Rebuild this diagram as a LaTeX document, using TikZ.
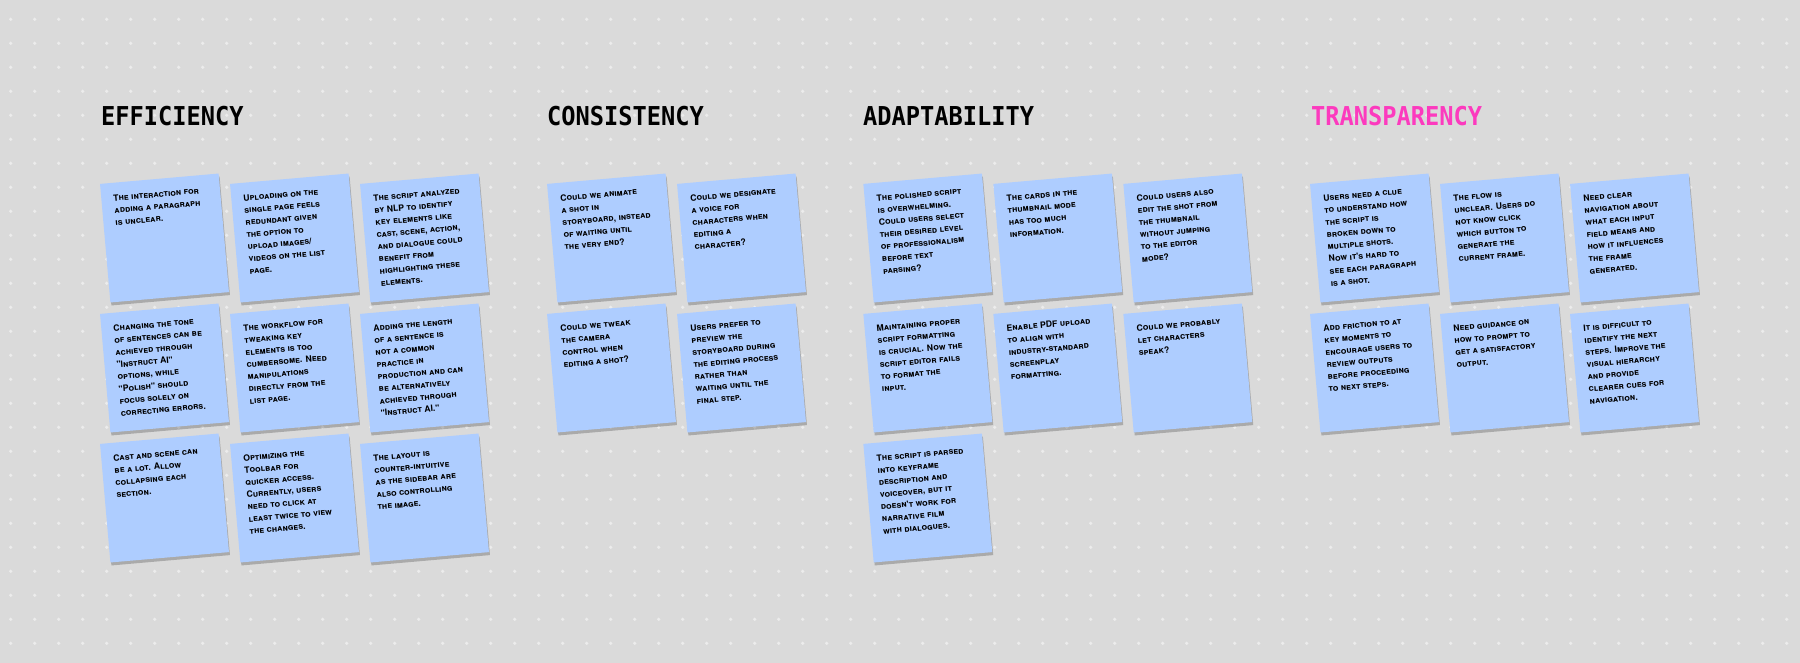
\documentclass[tikz,border=0pt]{standalone}
\usepackage{fontspec}
\usetikzlibrary{shadows}
\newfontfamily\headfont{DejaVu Sans Mono}[FakeStretch=0.91]
\newfontfamily\handfont{TeX Gyre Heros}
\definecolor{bgc}{RGB}{218,218,218}
\definecolor{dotc}{RGB}{236,236,236}
\definecolor{noteblue}{RGB}{174,205,255}
\definecolor{pinkc}{RGB}{252,58,190}
\newcommand\stxt[1]{\parbox[t][95pt][t]{95pt}{\raggedright\handfont\bfseries\scshape\fontsize{8.7}{12.2}\selectfont #1}}
\begin{document}
\begin{tikzpicture}[x=1pt,y=-1pt,
  sticky/.style={rectangle, fill=noteblue, rotate=5, inner sep=12pt,
    minimum width=119pt, minimum height=119pt,
    drop shadow={shadow xshift=1pt, shadow yshift=-3pt, opacity=0.22, fill=black}},
  heading/.style={anchor=base west, inner sep=0pt, font=\headfont\bfseries\fontsize{26}{26}\selectfont}]
\useasboundingbox (0,0) rectangle (1800,663);
\fill[bgc] (0,0) rectangle (1800,663);
\foreach \x in {10.7,34.7,...,1800}
  \foreach \y in {19.3,43.3,...,663}
    \fill[dotc] (\x,\y) circle (1.8pt);

% headings
\node[heading] (hE) at (101,126) {EFFICIENCY};
\node[heading] (hC) at (547,126) {CONSISTENCY};
\node[heading] (hA) at (863,126) {ADAPTABILITY};
\node[heading, text=pinkc] (hT) at (1311,126) {TRANSPARENCY};

% Efficiency
\node[sticky] (e1) at (164.5,238) {\stxt{The interaction for\\adding a paragraph\\is unclear.}};
\node[sticky] (e2) at (294.5,238) {\stxt{Uploading on the\\single page feels\\redundant given\\the option to\\upload images/\\videos on the list\\page.}};
\node[sticky] (e3) at (424.5,238) {\stxt{The script analyzed\\by NLP to identify\\key elements like\\cast, scene, action,\\and dialogue could\\benefit from\\highlighting these\\elements.}};
\node[sticky] (e4) at (164.5,368) {\stxt{Changing the tone\\of sentences can be\\achieved through\\"Instruct AI"\\options, while\\"Polish" should\\focus solely on\\correcting errors.}};
\node[sticky] (e5) at (294.5,368) {\stxt{The workflow for\\tweaking key\\elements is too\\cumbersome. Need\\manipulations\\directly from the\\list page.}};
\node[sticky] (e6) at (424.5,368) {\stxt{Adding the length\\of a sentence is\\not a common\\practice in\\production and can\\be alternatively\\achieved through\\"Instruct AI."}};
\node[sticky] (e7) at (164.5,498) {\stxt{Cast and scene can\\be a lot. Allow\\collapsing each\\section.}};
\node[sticky] (e8) at (294.5,498) {\stxt{Optimizing the\\Toolbar for\\quicker access.\\Currently, users\\need to click at\\least twice to view\\the changes.}};
\node[sticky] (e9) at (424.5,498) {\stxt{The layout is\\counter-intuitive\\as the sidebar are\\also controlling\\the image.}};

% Consistency
\node[sticky] (c1) at (611.5,238) {\stxt{Could we animate\\a shot in\\storyboard, instead\\of waiting until\\the very end?}};
\node[sticky] (c2) at (741.5,238) {\stxt{Could we designate\\a voice for\\characters when\\editing a\\character?}};
\node[sticky] (c3) at (611.5,368) {\stxt{Could we tweak\\the camera\\control when\\editing a shot?}};
\node[sticky] (c4) at (741.5,368) {\stxt{Users prefer to\\preview the\\storyboard during\\the editing process\\rather than\\waiting until the\\final step.}};

% Adaptability
\node[sticky] (a1) at (927.8,238) {\stxt{The polished script\\is overwhelming.\\Could users select\\their desired level\\of professionalism\\before text\\parsing?}};
\node[sticky] (a2) at (1057.8,238) {\stxt{The cards in the\\thumbnail mode\\has too much\\information.}};
\node[sticky] (a3) at (1187.8,238) {\stxt{Could users also\\edit the shot from\\the thumbnail\\without jumping\\to the editor\\mode?}};
\node[sticky] (a4) at (927.8,368) {\stxt{Maintaining proper\\script formatting\\is crucial. Now the\\script editor fails\\to format the\\input.}};
\node[sticky] (a5) at (1057.8,368) {\stxt{Enable PDF upload\\to align with\\industry-standard\\screenplay\\formatting.}};
\node[sticky] (a6) at (1187.8,368) {\stxt{Could we probably\\let characters\\speak?}};
\node[sticky] (a7) at (927.8,498) {\stxt{The script is parsed\\into keyframe\\description and\\voiceover, but it\\doesn't work for\\narrative film\\with dialogues.}};

% Transparency
\node[sticky] (t1) at (1374.5,238) {\stxt{Users need a clue\\to understand how\\the script is\\broken down to\\multiple shots.\\Now it's hard to\\see each paragraph\\is a shot.}};
\node[sticky] (t2) at (1504.5,238) {\stxt{The flow is\\unclear. Users do\\not know click\\which button to\\generate the\\current frame.}};
\node[sticky] (t3) at (1634.5,238) {\stxt{Need clear\\navigation about\\what each input\\field means and\\how it influences\\the frame\\generated.}};
\node[sticky] (t4) at (1374.5,368) {\stxt{Add friction to at\\key moments to\\encourage users to\\review outputs\\before proceeding\\to next steps.}};
\node[sticky] (t5) at (1504.5,368) {\stxt{Need guidance on\\how to prompt to\\get a satisfactory\\output.}};
\node[sticky] (t6) at (1634.5,368) {\stxt{It is difficult to\\identify the next\\steps. Improve the\\visual hierarchy\\and provide\\clearer cues for\\navigation.}};
\end{tikzpicture}
\end{document}
